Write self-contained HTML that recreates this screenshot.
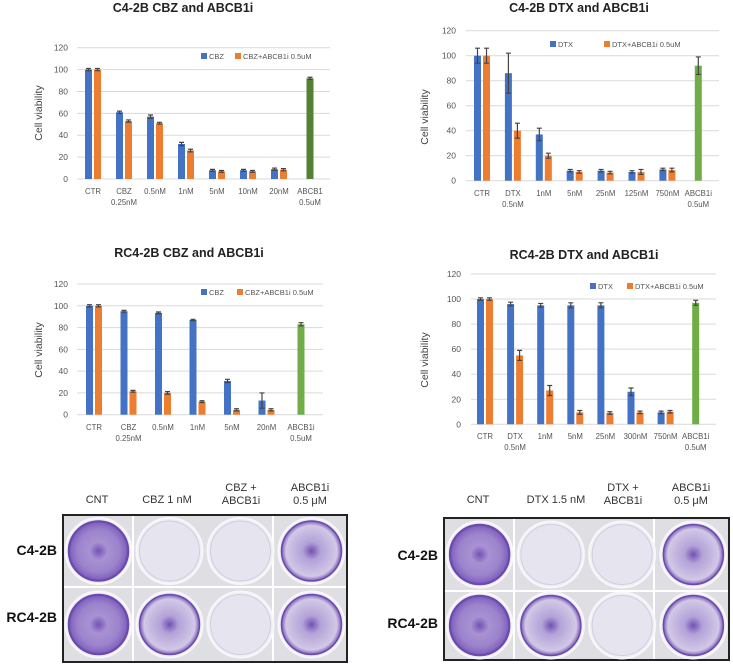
<!DOCTYPE html>
<html><head><meta charset="utf-8"><style>
body{margin:0;background:#fff;width:733px;height:665px;overflow:hidden;font-family:"Liberation Sans",sans-serif}
svg{position:absolute;left:0;top:0}
</style></head><body>
<svg id="fig" width="733" height="665" xmlns="http://www.w3.org/2000/svg">
<defs>
<radialGradient id="stain" cx="50%" cy="50%" r="50%">
<stop offset="0" stop-color="#7550b5"/><stop offset="0.3" stop-color="#a892d2"/><stop offset="0.7" stop-color="#9c83cc"/><stop offset="0.92" stop-color="#8566c0"/><stop offset="1" stop-color="#5e3ca3"/></radialGradient>
<radialGradient id="stain2" cx="50%" cy="50%" r="50%">
<stop offset="0" stop-color="#7350b3"/><stop offset="0.3" stop-color="#b3a2d8"/><stop offset="0.85" stop-color="#d2c8e6"/><stop offset="1" stop-color="#7a5bb5"/></radialGradient>
</defs>
</svg>
<script>
// ---- Chart 1: C4-2B CBZ ----
const c1Categories = ["CTR","CBZ\n0.25nM","0.5nM","1nM","5nM","10nM","20nM","ABCB1\n0.5uM"];
const c1Drug = [100,61,57,32,8,8,9];
const c1DrugErr = [1,1,1.5,1.5,0.8,0.8,1];
const c1Combo = [100,53,51,26,7,7,8.5];
const c1ComboErr = [1,1,0.8,1.2,0.8,0.8,1];
const c1Inhib = 92;
const c1InhibErr = 1;
// ---- Chart 2: C4-2B DTX ----
const c2Categories = ["CTR","DTX\n0.5nM","1nM","5nM","25nM","125nM","750nM","ABCB1i\n0.5uM"];
const c2Drug = [100,86,37,8,8,7,9];
const c2DrugErr = [6,16,5,1,1,1,1];
const c2Combo = [100,40,20,7,6.5,7,8.5];
const c2ComboErr = [6,6,2,1,1,2,1.5];
const c2Inhib = 92;
const c2InhibErr = 7;
// ---- Chart 3: RC4-2B CBZ ----
const c3Categories = ["CTR","CBZ\n0.25nM","0.5nM","1nM","5nM","20nM","ABCB1i\n0.5uM"];
const c3Drug = [100,95,93.5,87,31,13];
const c3DrugErr = [1,0.8,0.8,0.6,1.5,7];
const c3Combo = [100,21.5,20,12,4.5,4.5];
const c3ComboErr = [1,0.8,1.2,0.8,1,1];
const c3Inhib = 83;
const c3InhibErr = 1.5;
// ---- Chart 4: RC4-2B DTX ----
const c4Categories = ["CTR","DTX\n0.5nM","1nM","5nM","25nM","300nM","750nM","ABCB1i\n0.5uM"];
const c4Drug = [100,96,95,95,95,26,9.5];
const c4DrugErr = [1,1.5,1.5,2,2,3,1];
const c4Combo = [100,55,27,9.5,9,9.5,10];
const c4ComboErr = [1,4,4,1.5,1,1,1];
const c4Inhib = 97;
const c4InhibErr = 2;
const yTicks = [0,20,40,60,80,100,120];

const NS="http://www.w3.org/2000/svg";
const svg=document.getElementById('fig');
function mk(tag,attrs,parent){const e=document.createElementNS(NS,tag);for(const k in attrs)e.setAttribute(k,attrs[k]);(parent||svg).appendChild(e);return e;}
function txt(s,attrs,parent){const t=mk('text',attrs,parent);t.textContent=s;return t;}

function chart(cfg){
  const g=mk('g',{});
  
  
  const y=v=>cfg.y0-(cfg.y0-cfg.y120)*v/120;
  const x=i=>cfg.cx0+i*cfg.step;
  const t=txt(cfg.title,{x:cfg.titleX,y:cfg.titleY,'text-anchor':'middle','font-size':'12.5','font-weight':'bold',fill:'#222'},g);
  
  
  yTicks.forEach(v=>{
    const gl=mk('line',{x1:cfg.px0,x2:cfg.px1,y1:y(v),y2:y(v),stroke:'#d9d9d9','stroke-width':1},g);
    
    
    const tl=txt(String(v),{x:cfg.tickX,y:y(v)+3,'text-anchor':'end','font-size':'8.5','fill':'#555'},g);
    
    
  });
  const yl=txt('Cell viability',{x:cfg.ylX,y:cfg.ylY,'text-anchor':'middle','font-size':'10.5',fill:'#444',transform:`rotate(-90 ${cfg.ylX} ${cfg.ylY})`},g);
  
  
  const bw=7;
  function bar(cx,v,err,color,name){
    const r=mk('rect',{x:cx-bw/2,y:y(v),width:bw,height:y(0)-y(v),fill:color},g);
    
    
    const p=mk('path',{d:`M${cx} ${y(v+err)}V${y(v-err)}M${cx-2.5} ${y(v+err)}H${cx+2.5}M${cx-2.5} ${y(v-err)}H${cx+2.5}`,stroke:'#444','stroke-width':1.2,fill:'none'},g);
    
    
  }
  cfg.drug.forEach((v,i)=>bar(x(i)-4.5,v,cfg.drugErr[i],'#4472c4','bar-drug'));
  cfg.combo.forEach((v,i)=>bar(x(i)+4.5,v,cfg.comboErr[i],'#ed7d31','bar-combo'));
  bar(x(cfg.cats.length-1),cfg.inhib,cfg.inhibErr,cfg.green,'bar-inhibitor');
  cfg.cats.forEach((c,i)=>{
    c.split('\n').forEach((line,j)=>{
      const l=txt(line,{x:x(i),y:cfg.catY+j*11,'text-anchor':'middle','font-size':'7.8',fill:'#555'},g);
      
      
    });
  });
  [[cfg.lg1,'#4472c4',cfg.drugName],[cfg.lg2,'#ed7d31',cfg.drugName+'+ABCB1i 0.5uM']].forEach(([lx,col,lab])=>{
    const s=mk('rect',{x:lx,y:cfg.lgY-4,width:6,height:6,fill:col},g);
    
    
    const lt=txt(lab,{x:lx+8,y:cfg.lgY+2,'font-size':'7.5',fill:'#555'},g);
    
    
  });
}
chart({name:'chart-c42b-cbz',title:'C4-2B CBZ and ABCB1i',titleX:183,titleY:12,y0:179,y120:47.7,px0:77,px1:330,cx0:93,step:31,tickX:68,ylX:42,ylY:113,catY:194,
  cats:c1Categories,drug:c1Drug,drugErr:c1DrugErr,combo:c1Combo,comboErr:c1ComboErr,inhib:c1Inhib,inhibErr:c1InhibErr,green:'#548235',drugName:'CBZ',lg1:201,lg2:235,lgY:57});
chart({name:'chart-c42b-dtx',title:'C4-2B DTX and ABCB1i',titleX:579,titleY:12,y0:180.7,y120:30.7,px0:466,px1:719,cx0:482,step:30.9,tickX:456,ylX:428,ylY:117,catY:196,
  cats:c2Categories,drug:c2Drug,drugErr:c2DrugErr,combo:c2Combo,comboErr:c2ComboErr,inhib:c2Inhib,inhibErr:c2InhibErr,green:'#70ad47',drugName:'DTX',lg1:550,lg2:604,lgY:45});
chart({name:'chart-rc42b-cbz',title:'RC4-2B CBZ and ABCB1i',titleX:189,titleY:257,y0:414.7,y120:284,px0:77,px1:323,cx0:94,step:34.5,tickX:68,ylX:42,ylY:350,catY:430,
  cats:c3Categories,drug:c3Drug,drugErr:c3DrugErr,combo:c3Combo,comboErr:c3ComboErr,inhib:c3Inhib,inhibErr:c3InhibErr,green:'#70ad47',drugName:'CBZ',lg1:201,lg2:237,lgY:293});
chart({name:'chart-rc42b-dtx',title:'RC4-2B DTX and ABCB1i',titleX:584,titleY:259,y0:424.3,y120:274,px0:471,px1:716,cx0:485,step:30.1,tickX:461,ylX:428,ylY:360,catY:439,
  cats:c4Categories,drug:c4Drug,drugErr:c4DrugErr,combo:c4Combo,comboErr:c4ComboErr,inhib:c4Inhib,inhibErr:c4InhibErr,green:'#70ad47',drugName:'DTX',lg1:590,lg2:627,lgY:287});

// ---- Colony panels ----
function panel(p){
  const g=mk('g',{});
  
  
  const bg=mk('rect',{x:p.x0,y:p.y0,width:p.x1-p.x0,height:p.y1-p.y0,fill:'#dfdfe3',stroke:'#222','stroke-width':2},g);
  
  
  const cw=(p.x1-p.x0)/4;
  p.cuts.forEach(cx=>{const l=mk('line',{x1:cx,x2:cx,y1:p.y0+1,y2:p.y1-1,stroke:'#fff','stroke-width':2},g);});
  const hl=mk('line',{x1:p.x0+1,x2:p.x1-1,y1:p.ymid,y2:p.ymid,stroke:'#fff','stroke-width':2},g);
  
  for(let r=0;r<2;r++)for(let c=0;c<4;c++){
    const cx=p.x0+cw*(c+0.5), cy=(r===0?(p.y0+p.ymid)/2:(p.ymid+p.y1)/2);
    const st=p.wells[r][c];
    const ring=mk('circle',{cx,cy,r:33,fill:'#eeeef3',stroke:'#f7f7fa','stroke-width':2},g);
    
    const w=mk('circle',{cx,cy,r:30,fill:st===0?'#e6e5ef':(st===1?'url(#stain)':'url(#stain2)'),stroke:st===0?'#cfcde0':'#6a4ab0','stroke-width':st===0?1:1.5},g);
    
  }
  p.cols.forEach((lines,i)=>{
    lines.forEach((s,j)=>{
      const t=txt(s,{x:p.colX[i],y:(lines.length===1?503:491+j*13),'text-anchor':'middle','font-size':'11',fill:'#333'},g);
      
    });
  });
  p.rows.forEach((s,i)=>{
    const t=txt(s,{x:p.rowX,y:p.rowY[i],'text-anchor':'end','font-size':'14','font-weight':'bold',fill:'#111'},g);
    
  });
}
panel({name:'colony-panel-cbz',x0:63,x1:347,y0:515,y1:662,ymid:587,cuts:[133,273],
  wells:[[1,0,0,2],[1,2,0,2]],cols:[["CNT"],["CBZ 1 nM"],["CBZ +","ABCB1i"],["ABCB1i","0.5 μM"]],colX:[97,167,241,310],
  rows:["C4-2B","RC4-2B"],rowX:57,rowY:[555,622]});
panel({name:'colony-panel-dtx',x0:444,x1:729,y0:518,y1:660,ymid:591,cuts:[514,654],
  wells:[[1,0,0,2],[1,2,0,2]],cols:[["CNT"],["DTX 1.5 nM"],["DTX +","ABCB1i"],["ABCB1i","0.5 μM"]],colX:[478,556,623,691],
  rows:["C4-2B","RC4-2B"],rowX:438,rowY:[560,628]});
</script>
</body></html>
